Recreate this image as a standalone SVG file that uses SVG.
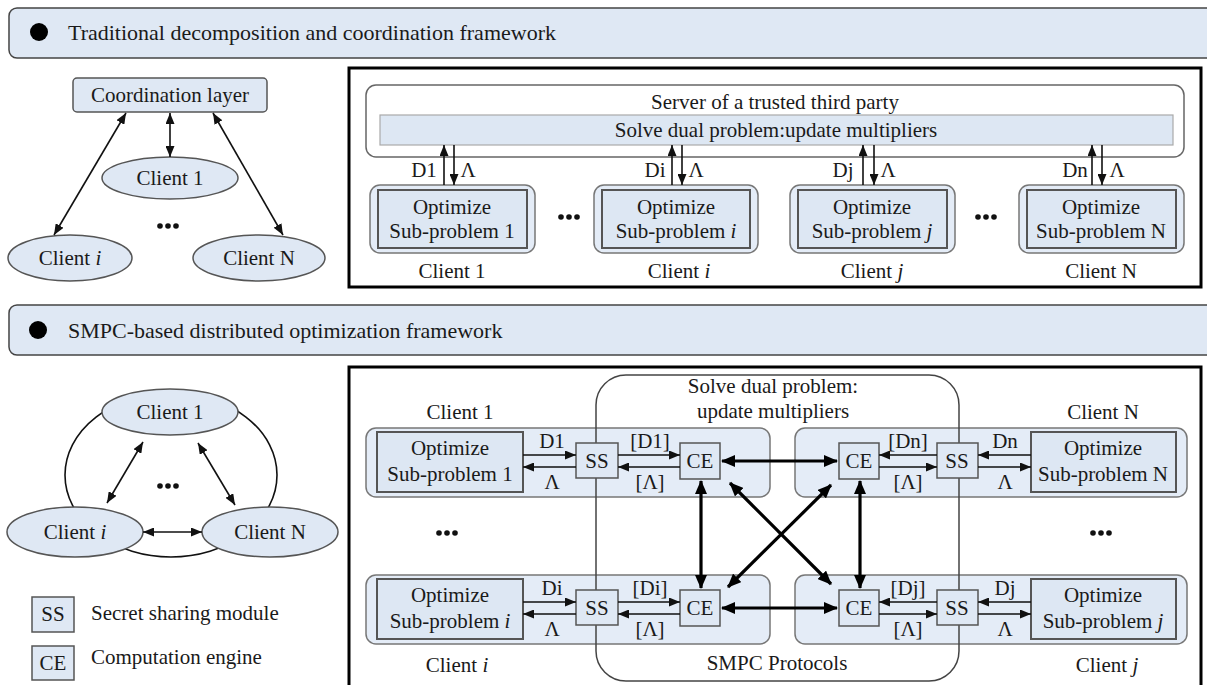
<svg xmlns="http://www.w3.org/2000/svg" width="1207" height="685" viewBox="0 0 1207 685">
<defs>
<marker id="a" markerUnits="userSpaceOnUse" markerWidth="11" markerHeight="9" viewBox="0 0 11 9" refX="11" refY="4.5" orient="auto-start-reverse"><path d="M0,0 L11,4.5 L0,9 z" fill="#111"/></marker>
<marker id="b" markerUnits="userSpaceOnUse" markerWidth="14" markerHeight="12" viewBox="0 0 14 12" refX="13" refY="6" orient="auto-start-reverse"><path d="M0,0 L14,6 L0,12 z" fill="#000"/></marker>
<style>
text{font-family:"Liberation Serif","Times New Roman",serif;font-size:21px;fill:#1a1a1a}
.h{font-size:22px}
.m{text-anchor:middle}
.hdr{fill:#dfe8f4;stroke:#444;stroke-width:1.5}
.lb{fill:#dfe8f4;stroke:#555;stroke-width:1.5}
.pan{fill:#e4ecf7;stroke:#777;stroke-width:1.5}
.inn{fill:#dde7f3;stroke:#555;stroke-width:2}
.big{fill:#fff;stroke:#000;stroke-width:3}
.thin{stroke:#111;stroke-width:1.6;fill:none}
.thick{stroke:#000;stroke-width:3.2;fill:none}
.dot{fill:#111}
</style>
</defs>

<g id="header1">
<rect class="hdr" x="9" y="8" width="1215" height="50" rx="8"/>
<circle cx="39" cy="32" r="9" fill="#000"/>
<text class="h" x="68" y="40">Traditional decomposition and coordination framework</text>
</g>

<g id="header2">
<rect class="hdr" x="9" y="305" width="1215" height="50" rx="8"/>
<circle cx="38" cy="330" r="9" fill="#000"/>
<text class="h" x="68" y="338">SMPC-based distributed optimization framework</text>
</g>

<!-- Top left graph -->
<g id="coord">
<rect class="lb" x="73" y="78" width="194" height="34" rx="4"/>
<text class="m" x="170" y="102">Coordination layer</text>
</g>
<g id="tl-client1">
<ellipse class="lb" cx="170" cy="178" rx="68" ry="21"/>
<text class="m" x="170" y="185">Client 1</text>
</g>
<g id="tl-clienti">
<ellipse class="lb" cx="70" cy="258" rx="62" ry="23"/>
<text class="m" x="70" y="265">Client <tspan font-style="italic">i</tspan></text>
</g>
<g id="tl-clientN">
<ellipse class="lb" cx="259" cy="258" rx="66" ry="23"/>
<text class="m" x="259" y="265">Client N</text>
</g>
<g id="tl-dots" class="dot"><circle cx="160" cy="226" r="2.8"/><circle cx="168" cy="226" r="2.8"/><circle cx="176" cy="226" r="2.8"/></g>

<!-- Top right frame -->
<g id="top-frame">
<rect class="big" x="349" y="68" width="852" height="219"/>
</g>
<g id="server">
<rect x="366" y="85" width="818" height="72" rx="10" fill="#fff" stroke="#666" stroke-width="1.5"/>
<text class="m" x="775" y="109">Server of a trusted third party</text>
<rect x="380" y="115" width="793" height="30" fill="#dde7f3" stroke="#aaa" stroke-width="1.2"/>
<text class="m" x="776" y="137">Solve dual problem:update multipliers</text>
</g>
<g id="top-client1">
<rect class="pan" x="370" y="185" width="165" height="68" rx="10"/>
<rect class="inn" x="378" y="190" width="149" height="58"/>
<text class="m" x="452" y="214">Optimize</text>
<text class="m" x="452" y="238">Sub-problem 1</text>
<text class="m" x="452" y="278">Client 1</text>
</g>
<g id="top-clienti">
<rect class="pan" x="594" y="185" width="164" height="68" rx="10"/>
<rect class="inn" x="602" y="190" width="148" height="58"/>
<text class="m" x="676" y="214">Optimize</text>
<text class="m" x="676" y="238">Sub-problem <tspan font-style="italic">i</tspan></text>
<text class="m" x="679" y="278">Client <tspan font-style="italic">i</tspan></text>
</g>
<g id="top-clientj">
<rect class="pan" x="790" y="185" width="165" height="68" rx="10"/>
<rect class="inn" x="798" y="190" width="149" height="58"/>
<text class="m" x="872" y="214">Optimize</text>
<text class="m" x="872" y="238">Sub-problem <tspan font-style="italic">j</tspan></text>
<text class="m" x="872" y="278">Client <tspan font-style="italic">j</tspan></text>
</g>
<g id="top-clientN">
<rect class="pan" x="1019" y="185" width="165" height="68" rx="10"/>
<rect class="inn" x="1027" y="190" width="149" height="58"/>
<text class="m" x="1101" y="214">Optimize</text>
<text class="m" x="1101" y="238">Sub-problem N</text>
<text class="m" x="1101" y="278">Client N</text>
</g>
<g id="top-dots" class="dot">
<circle cx="561" cy="217" r="2.8"/><circle cx="569" cy="217" r="2.8"/><circle cx="577" cy="217" r="2.8"/>
<circle cx="978" cy="217" r="2.8"/><circle cx="986" cy="217" r="2.8"/><circle cx="994" cy="217" r="2.8"/>
</g>
<g id="top-labels">
<text class="m" x="424" y="177">D1</text><text class="m" x="468" y="177">Λ</text>
<text class="m" x="655" y="177">Di</text><text class="m" x="696" y="177">Λ</text>
<text class="m" x="843" y="177">Dj</text><text class="m" x="888" y="177">Λ</text>
<text class="m" x="1075" y="177">Dn</text><text class="m" x="1117" y="177">Λ</text>
</g>

<!-- Bottom left graph -->
<g id="ring"><ellipse cx="171" cy="475" rx="106" ry="82" fill="none" stroke="#111" stroke-width="1.6"/></g>
<g id="bl-client1">
<ellipse class="lb" cx="170" cy="412" rx="68" ry="23"/>
<text class="m" x="170" y="419">Client 1</text>
</g>
<g id="bl-clienti">
<ellipse class="lb" cx="75" cy="532" rx="68" ry="25"/>
<text class="m" x="75" y="539">Client <tspan font-style="italic">i</tspan></text>
</g>
<g id="bl-clientN">
<ellipse class="lb" cx="270" cy="532" rx="68" ry="25"/>
<text class="m" x="270" y="539">Client N</text>
</g>
<g id="bl-dots" class="dot"><circle cx="160" cy="486" r="2.8"/><circle cx="168" cy="486" r="2.8"/><circle cx="176" cy="486" r="2.8"/></g>

<g id="legend">
<rect class="lb" x="32" y="597" width="42" height="35"/>
<text class="m" x="53" y="621">SS</text>
<text x="91" y="620">Secret sharing module</text>
<rect class="lb" x="32" y="646" width="42" height="34"/>
<text class="m" x="53" y="670">CE</text>
<text x="91" y="664">Computation engine</text>
</g>

<!-- Bottom right frame -->
<g id="bottom-frame">
<rect class="big" x="349" y="367" width="852" height="330"/>
</g>

<g id="panel-client1">
<rect class="pan" x="366" y="428" width="404" height="69" rx="10"/>
<rect class="inn" x="377" y="432" width="146" height="60"/>
<text class="m" x="450" y="455">Optimize</text>
<text class="m" x="450" y="481">Sub-problem 1</text>
<text class="m" x="460" y="419">Client 1</text>
</g>
<g id="panel-clientN">
<rect class="pan" x="795" y="428" width="392" height="69" rx="10"/>
<rect class="inn" x="1031" y="432" width="145" height="60"/>
<text class="m" x="1103" y="455">Optimize</text>
<text class="m" x="1103" y="481">Sub-problem N</text>
<text class="m" x="1103" y="419">Client N</text>
</g>
<g id="panel-clienti">
<rect class="pan" x="366" y="575" width="404" height="69" rx="10"/>
<rect class="inn" x="377" y="579" width="146" height="60"/>
<text class="m" x="450" y="602">Optimize</text>
<text class="m" x="450" y="628">Sub-problem <tspan font-style="italic">i</tspan></text>
<text class="m" x="457" y="672">Client <tspan font-style="italic">i</tspan></text>
</g>
<g id="panel-clientj">
<rect class="pan" x="795" y="575" width="392" height="69" rx="10"/>
<rect class="inn" x="1031" y="579" width="145" height="60"/>
<text class="m" x="1103" y="602">Optimize</text>
<text class="m" x="1103" y="628">Sub-problem <tspan font-style="italic">j</tspan></text>
<text class="m" x="1107" y="672">Client <tspan font-style="italic">j</tspan></text>
</g>

<g id="smpc">
<path d="M626,375 H929 A30,30 0 0 1 959,405 V651 A30,30 0 0 1 929,681 H626 A30,30 0 0 1 596,651 V405 A30,30 0 0 1 626,375 Z" fill="none" stroke="#444" stroke-width="1.5"/>
<text class="m" x="773" y="393">Solve dual problem:</text>
<text class="m" x="773" y="418">update multipliers</text>
<text class="m" x="777" y="670">SMPC Protocols</text>
</g>

<g id="ss1"><rect class="lb" x="576" y="443" width="42" height="35"/><text class="m" x="597" y="468">SS</text></g>
<g id="ce1"><rect class="lb" x="680" y="443" width="40" height="36"/><text class="m" x="700" y="468">CE</text></g>
<g id="ceN"><rect class="lb" x="839" y="443" width="40" height="36"/><text class="m" x="859" y="468">CE</text></g>
<g id="ssN"><rect class="lb" x="937" y="443" width="41" height="35"/><text class="m" x="957" y="468">SS</text></g>
<g id="ssi"><rect class="lb" x="576" y="590" width="42" height="35"/><text class="m" x="597" y="615">SS</text></g>
<g id="cei"><rect class="lb" x="680" y="590" width="40" height="36"/><text class="m" x="700" y="615">CE</text></g>
<g id="cej"><rect class="lb" x="839" y="590" width="40" height="36"/><text class="m" x="859" y="615">CE</text></g>
<g id="ssj"><rect class="lb" x="937" y="590" width="41" height="35"/><text class="m" x="957" y="615">SS</text></g>

<g id="br-dots" class="dot">
<circle cx="439" cy="533" r="2.8"/><circle cx="447" cy="533" r="2.8"/><circle cx="455" cy="533" r="2.8"/>
<circle cx="1093" cy="533" r="2.8"/><circle cx="1101" cy="533" r="2.8"/><circle cx="1109" cy="533" r="2.8"/>
</g>

<g id="bottom-labels">
<text class="m" x="552" y="448">D1</text><text class="m" x="552" y="489">Λ</text>
<text class="m" x="650" y="448">[D1]</text><text class="m" x="650" y="489">[Λ]</text>
<text class="m" x="908" y="448">[Dn]</text><text class="m" x="908" y="489">[Λ]</text>
<text class="m" x="1005" y="448">Dn</text><text class="m" x="1005" y="489">Λ</text>
<text class="m" x="552" y="595">Di</text><text class="m" x="552" y="636">Λ</text>
<text class="m" x="650" y="595">[Di]</text><text class="m" x="650" y="636">[Λ]</text>
<text class="m" x="908" y="595">[Dj]</text><text class="m" x="908" y="636">[Λ]</text>
<text class="m" x="1005" y="595">Dj</text><text class="m" x="1005" y="636">Λ</text>
</g>

<g id="connectors">
<!-- top left -->
<line class="thin" x1="126" y1="113" x2="54" y2="235" marker-start="url(#a)" marker-end="url(#a)"/>
<line class="thin" x1="170" y1="113" x2="170" y2="157" marker-start="url(#a)" marker-end="url(#a)"/>
<line class="thin" x1="213" y1="113" x2="283" y2="235" marker-start="url(#a)" marker-end="url(#a)"/>
<!-- top right -->
<line class="thin" x1="444" y1="185" x2="444" y2="145" marker-end="url(#a)"/>
<line class="thin" x1="454" y1="145" x2="454" y2="185" marker-end="url(#a)"/>
<line class="thin" x1="672" y1="185" x2="672" y2="145" marker-end="url(#a)"/>
<line class="thin" x1="682" y1="145" x2="682" y2="185" marker-end="url(#a)"/>
<line class="thin" x1="863" y1="185" x2="863" y2="145" marker-end="url(#a)"/>
<line class="thin" x1="874" y1="145" x2="874" y2="185" marker-end="url(#a)"/>
<line class="thin" x1="1092" y1="185" x2="1092" y2="145" marker-end="url(#a)"/>
<line class="thin" x1="1102" y1="145" x2="1102" y2="185" marker-end="url(#a)"/>
<!-- bottom left -->
<line class="thin" x1="143" y1="442" x2="107" y2="503" marker-start="url(#a)" marker-end="url(#a)"/>
<line class="thin" x1="198" y1="443" x2="235" y2="505" marker-start="url(#a)" marker-end="url(#a)"/>
<line class="thin" x1="143" y1="532" x2="202" y2="532" marker-start="url(#a)" marker-end="url(#a)"/>
<!-- bottom right, client rows -->
<line class="thin" x1="523" y1="455" x2="576" y2="455" marker-end="url(#a)"/>
<line class="thin" x1="576" y1="467" x2="523" y2="467" marker-end="url(#a)"/>
<line class="thin" x1="618" y1="455" x2="680" y2="455" marker-end="url(#a)"/>
<line class="thin" x1="680" y1="467" x2="618" y2="467" marker-end="url(#a)"/>
<line class="thin" x1="937" y1="455" x2="879" y2="455" marker-end="url(#a)"/>
<line class="thin" x1="879" y1="467" x2="937" y2="467" marker-end="url(#a)"/>
<line class="thin" x1="1031" y1="455" x2="978" y2="455" marker-end="url(#a)"/>
<line class="thin" x1="978" y1="467" x2="1031" y2="467" marker-end="url(#a)"/>
<line class="thin" x1="523" y1="602" x2="576" y2="602" marker-end="url(#a)"/>
<line class="thin" x1="576" y1="614" x2="523" y2="614" marker-end="url(#a)"/>
<line class="thin" x1="618" y1="602" x2="680" y2="602" marker-end="url(#a)"/>
<line class="thin" x1="680" y1="614" x2="618" y2="614" marker-end="url(#a)"/>
<line class="thin" x1="937" y1="602" x2="879" y2="602" marker-end="url(#a)"/>
<line class="thin" x1="879" y1="614" x2="937" y2="614" marker-end="url(#a)"/>
<line class="thin" x1="1031" y1="602" x2="978" y2="602" marker-end="url(#a)"/>
<line class="thin" x1="978" y1="614" x2="1031" y2="614" marker-end="url(#a)"/>
<!-- CE mesh -->
<line class="thick" x1="722" y1="461" x2="837" y2="461" marker-start="url(#b)" marker-end="url(#b)"/>
<line class="thick" x1="722" y1="608" x2="837" y2="608" marker-start="url(#b)" marker-end="url(#b)"/>
<line class="thick" x1="701" y1="481" x2="701" y2="588" marker-start="url(#b)" marker-end="url(#b)"/>
<line class="thick" x1="860" y1="481" x2="860" y2="588" marker-start="url(#b)" marker-end="url(#b)"/>
<line class="thick" x1="730" y1="483" x2="831" y2="584" marker-start="url(#b)" marker-end="url(#b)"/>
<line class="thick" x1="831" y1="485" x2="728" y2="587" marker-start="url(#b)" marker-end="url(#b)"/>
</g>
</svg>
